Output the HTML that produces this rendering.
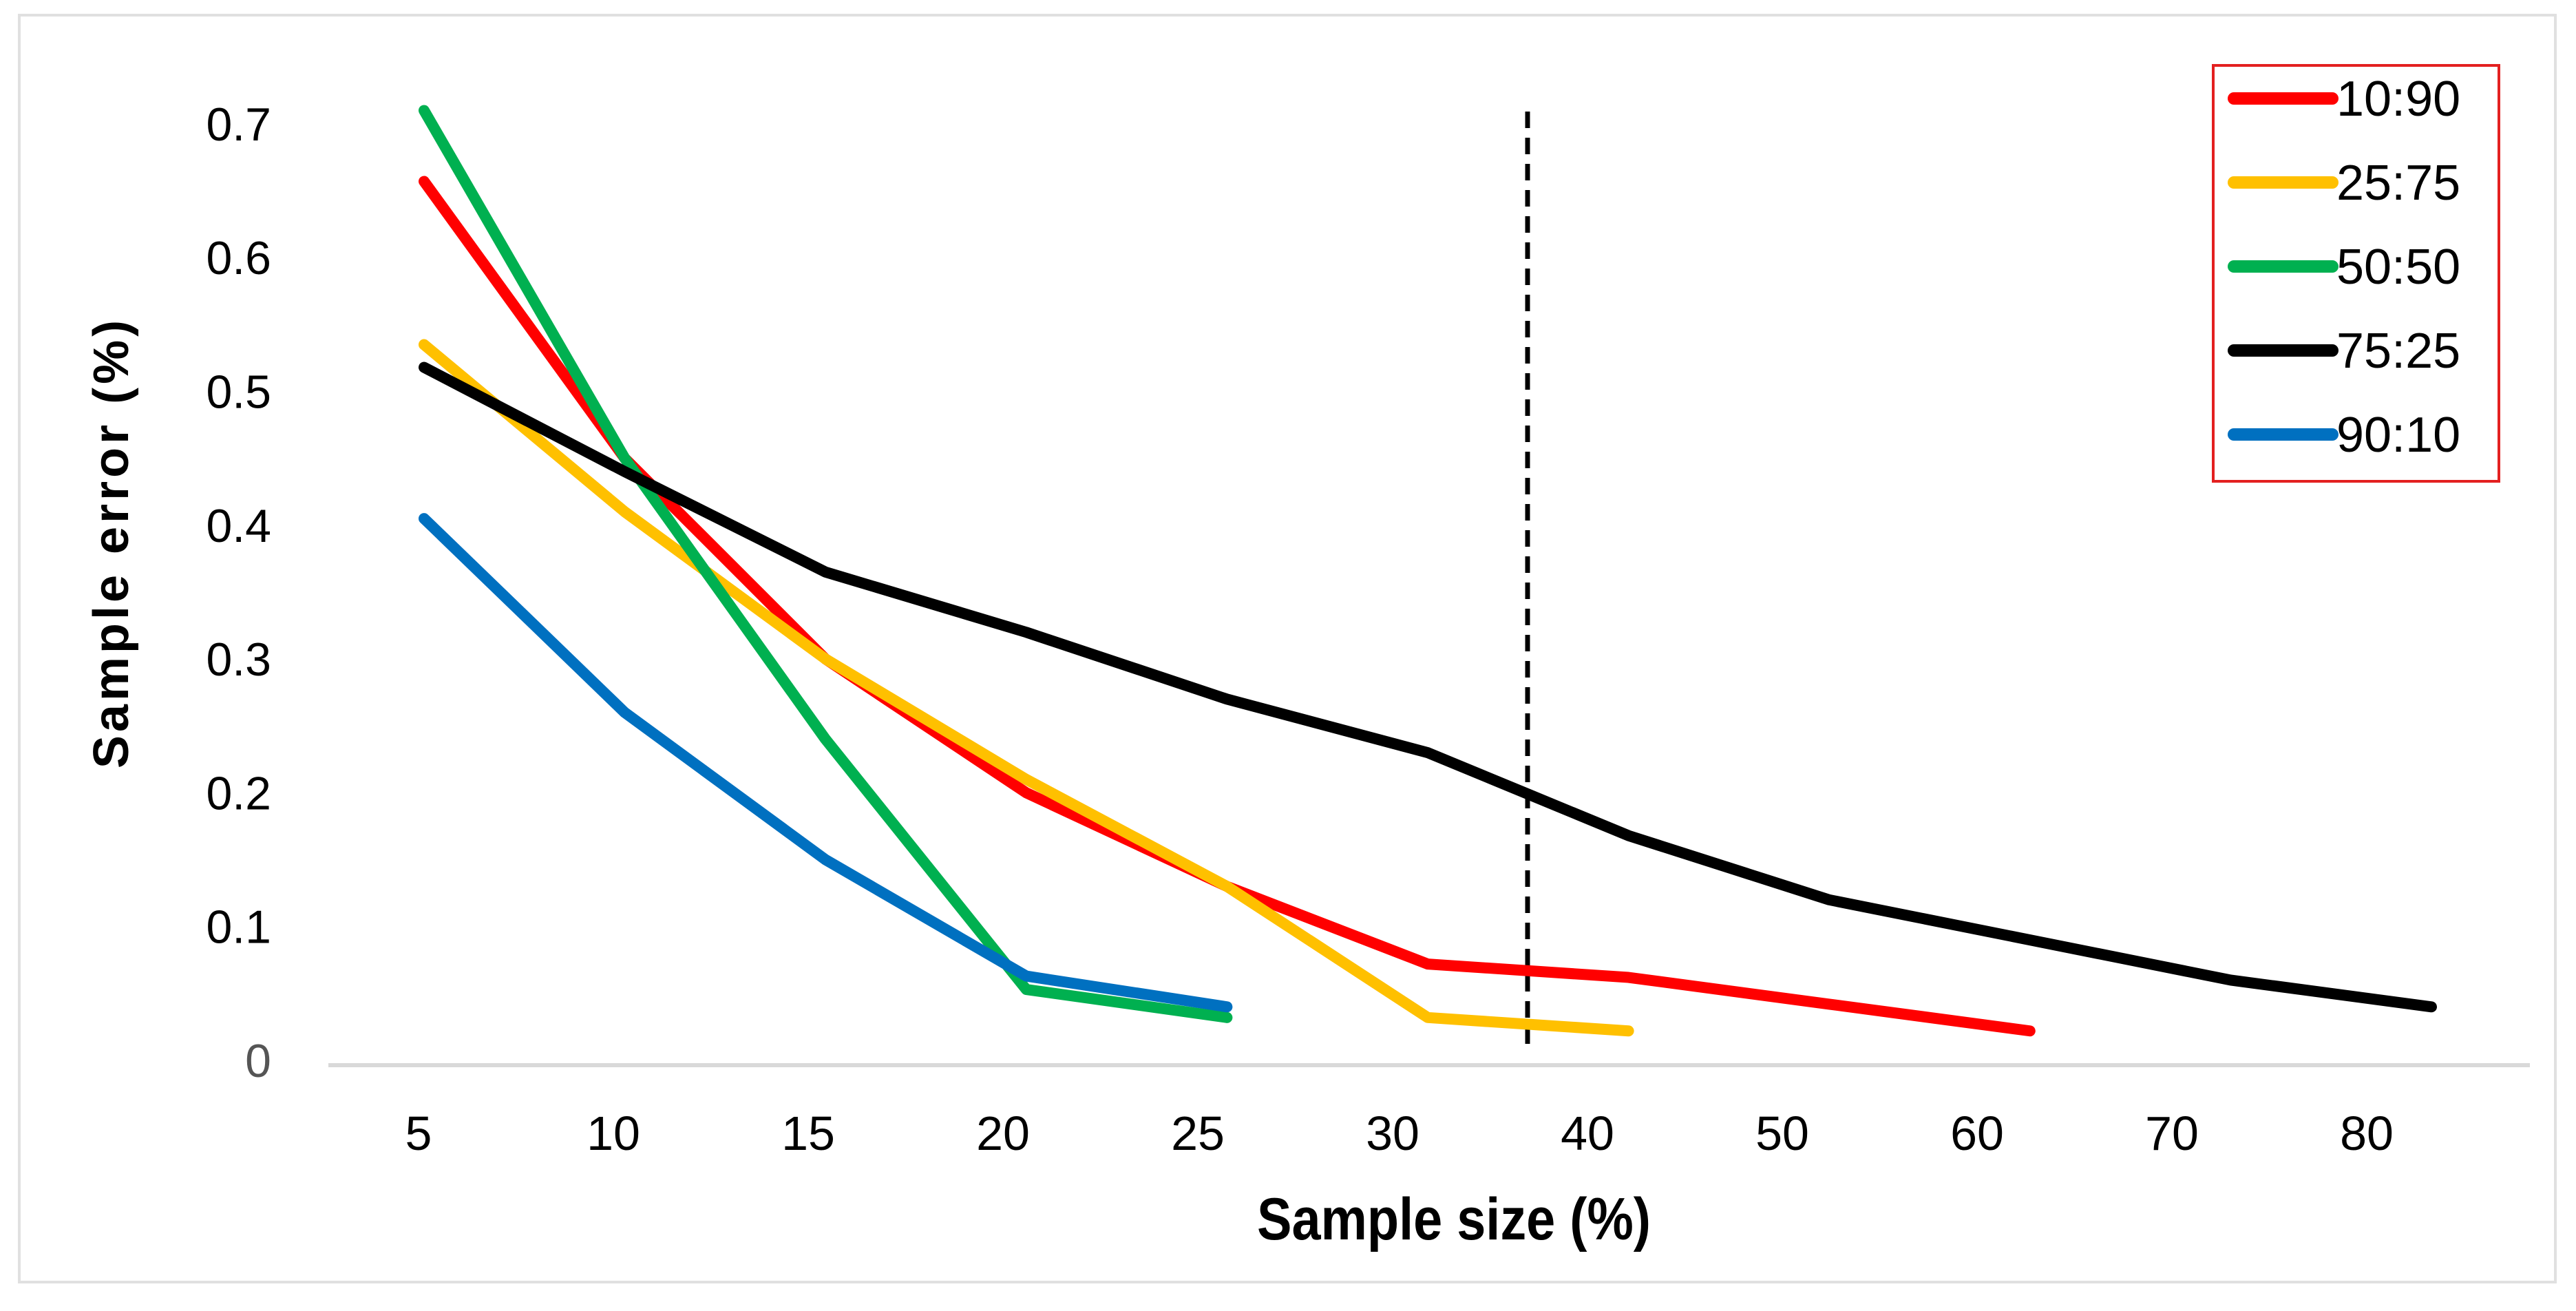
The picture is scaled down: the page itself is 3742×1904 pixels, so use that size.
<!DOCTYPE html>
<html><head><meta charset="utf-8"><style>
html,body{margin:0;padding:0;background:#fff}
svg text{font-family:"Liberation Sans",sans-serif}
</style></head><body>
<svg id="chart" width="3742" height="1899" viewBox="0 0 3742 1899" xmlns="http://www.w3.org/2000/svg">
<rect x="28" y="22" width="3684" height="1840" fill="#fff" stroke="#e0e0e0" stroke-width="4"/>
<line x1="477" y1="1547" x2="3675" y2="1547" stroke="#d9d9d9" stroke-width="6"/>
<g id="yticks"></g>
<g id="xticks"></g>
<line x1="2219" y1="162" x2="2219" y2="1522" stroke="#000" stroke-width="7" stroke-dasharray="24,14"/>
<g id="series"></g>
<text transform="translate(186,788) rotate(-90)" text-anchor="middle" font-size="72" font-weight="bold" letter-spacing="5">Sample error (%)</text>
<text x="2112" y="1800" text-anchor="middle" font-size="86" font-weight="bold" transform="translate(2112,0) scale(0.88,1) translate(-2112,0)">Sample size (%)</text>
<g id="legend">
<rect x="3215" y="95" width="415" height="604" fill="#fff" stroke="#e32020" stroke-width="4"/>
</g>
</svg>
<script>
const categories = ["5","10","15","20","25","30","40","50","60","70","80"];
const yTicks = [0,0.1,0.2,0.3,0.4,0.5,0.6,0.7];
const seriesNames = ["10:90","25:75","50:50","75:25","90:10"];
const seriesColors = ["#ff0000","#ffc000","#00b050","#000000","#0070c0"];
const red = [0.657,0.45,0.30,0.20,0.13,0.072,0.062,0.042,0.022];
const yellow = [0.535,0.41,0.30,0.21,0.13,0.032,0.022];
const green = [0.71,0.45,0.24,0.053,0.032];
const black = [0.518,0.44,0.365,0.32,0.27,0.23,0.168,0.12,0.09,0.06,0.04];
const blue = [0.405,0.26,0.15,0.063,0.04];
const seriesData = [red,yellow,green,black,blue];

const NS="http://www.w3.org/2000/svg";
function yScale(v){return 1540 - v*1943;}
function xTick(i){return 608 + 283*i;}
function xPoint(i){return 616 + 291.6*i;}
function mk(tag,attrs,parent){const e=document.createElementNS(NS,tag);for(const k in attrs)e.setAttribute(k,attrs[k]);parent.appendChild(e);return e;}

const yg=document.getElementById('yticks');
yTicks.forEach(v=>{
  const t=mk('text',{x:394,y:yScale(v)+24,'text-anchor':'end','font-size':68,fill:v===0?'#555':'#000'},yg);
  
  
  t.textContent=v===0?"0":String(v);
});
const xg=document.getElementById('xticks');
categories.forEach((c,i)=>{
  const t=mk('text',{x:xTick(i),y:1670,'text-anchor':'middle','font-size':70},xg);
  
  
  t.textContent=c;
});
const sg=document.getElementById('series');
seriesData.forEach((d,s)=>{
  const pts=d.map((v,i)=>xPoint(i)+","+yScale(v)).join(" ");
  const p=mk('polyline',{points:pts,fill:'none',stroke:seriesColors[s],'stroke-width':16,'stroke-linejoin':'round','stroke-linecap':'round'},sg);
  
  
});
const lg=document.getElementById('legend');
seriesNames.forEach((n,s)=>{
  const y=143+122*s;
  const l=mk('line',{x1:3245,y1:y,x2:3388,y2:y,stroke:seriesColors[s],'stroke-width':18,'stroke-linecap':'round'},lg);
  
  
  const t=mk('text',{x:3394,y:y+25,'font-size':72},lg);
  
  
  t.textContent=n;
});
</script>
</body></html>
